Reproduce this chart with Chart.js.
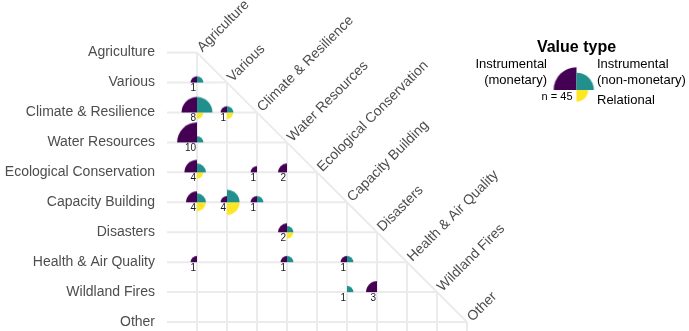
<!DOCTYPE html>
<html>
<head>
<meta charset="utf-8">
<script src="https://cdn.jsdelivr.net/npm/chart.js@4.4.1/dist/chart.umd.min.js"></script>
<style>
  html, body { margin: 0; padding: 0; background: #fff; }
  #wrap { width: 689px; height: 331px; }
</style>
</head>
<body>
<div id="wrap"><canvas id="chart" width="689" height="331"></canvas></div>
<script>
// Categories, used for both rows and columns
const categories = ['Agriculture', 'Various', 'Climate & Resilience', 'Water Resources',
  'Ecological Conservation', 'Capacity Building', 'Disasters', 'Health & Air Quality',
  'Wildland Fires', 'Other'];

// One entry per occupied cell of the lower triangle
const cellRow     = [1, 2, 2, 3, 4, 4, 4, 5, 5, 5, 6, 7, 7, 7, 8, 8];
const cellCol     = [0, 0, 1, 0, 0, 2, 3, 0, 1, 2, 3, 0, 3, 5, 5, 6];
const studies     = [1, 8, 1, 10, 4, 1, 2, 4, 4, 1, 2, 1, 1, 1, 1, 3];
const monetary    = [1, 6, 1, 10, 4, 1, 2, 3, 1, 1, 2, 1, 1, 1, 0, 3];
const nonMonetary = [1, 6, 1, 1, 2, 0, 0, 2, 4, 1, 1, 0, 1, 1, 1, 0];
const relational  = [0, 1, 1, 0, 1, 0, 0, 2, 4, 0, 1, 0, 0, 0, 0, 0];

const PURPLE = '#440154', TEAL = '#21908C', YELLOW = '#FDE725';
const GRID = '#ebebeb';
const FONT = '"Liberation Sans", Arial, sans-serif';

// quarter circle sprites, centred in their canvas
const cache = {};
function quarter(r, color, quad) {
  const key = r.toFixed(2) + color + quad;
  if (cache[key]) return cache[key];
  const R = Math.ceil(r) + 1;
  const c = document.createElement('canvas');
  c.width = 2 * R; c.height = 2 * R;
  const g = c.getContext('2d');
  const a = { tl: [Math.PI, 1.5 * Math.PI], tr: [1.5 * Math.PI, 2 * Math.PI], br: [0, 0.5 * Math.PI] }[quad];
  g.fillStyle = color;
  g.beginPath();
  g.moveTo(R, R);
  g.arc(R, R, r, a[0], a[1]);
  g.closePath();
  g.fill();
  cache[key] = c;
  return c;
}

const cellRadius = v => 6.3 * Math.sqrt(v);
const legendRadius = v => 3.7 * Math.sqrt(v);

function points(values) {
  return values.map((v, i) => ({ x: cellCol[i], y: cellRow[i], v })).filter(p => p.v > 0);
}

function quarterSet(label, values, color, quad) {
  return {
    label,
    data: points(values),
    pointStyle: ctx => quarter(cellRadius(ctx.raw.v), color, quad),
    pointRadius: ctx => cellRadius(ctx.raw.v),
    backgroundColor: color,
    borderWidth: 0
  };
}

const sum = a => a.reduce((s, v) => s + v, 0);

const triangle = {
  id: 'triangle',
  beforeDatasetsDraw(chart) {
    const { ctx, chartArea, scales: { x, y } } = chart;
    ctx.save();
    ctx.strokeStyle = GRID;
    ctx.lineWidth = 2;
    categories.forEach((c, i) => {
      const px = x.getPixelForValue(i), py = y.getPixelForValue(i);
      ctx.beginPath(); ctx.moveTo(chartArea.left, py); ctx.lineTo(px, py); ctx.stroke();
      ctx.beginPath(); ctx.moveTo(px, py); ctx.lineTo(px, chartArea.bottom); ctx.stroke();
    });
    const last = categories.length - 1;
    ctx.beginPath();
    ctx.moveTo(x.getPixelForValue(0), y.getPixelForValue(0));
    ctx.lineTo(x.getPixelForValue(last), y.getPixelForValue(last));
    ctx.stroke();
    ctx.restore();
  },
  afterDatasetsDraw(chart) {
    const { ctx, scales: { x, y } } = chart;
    ctx.save();
    // study counts
    ctx.fillStyle = '#1a1a1a';
    ctx.font = '10px ' + FONT;
    ctx.textAlign = 'right';
    ctx.textBaseline = 'middle';
    studies.forEach((n, i) => {
      ctx.fillText(n, x.getPixelForValue(cellCol[i]) - 1, y.getPixelForValue(cellRow[i]) + 6);
    });
    // column labels along the diagonal
    ctx.fillStyle = '#4d4d4d';
    ctx.font = '14px ' + FONT;
    ctx.textAlign = 'left';
    ctx.textBaseline = 'middle';
    categories.forEach((c, i) => {
      ctx.save();
      ctx.translate(x.getPixelForValue(i), y.getPixelForValue(i));
      ctx.rotate(-Math.PI / 4);
      ctx.fillText(c, 4, 0);
      ctx.restore();
    });
    // legend
    const cx = 576.5, cy = 90;
    const rm = legendRadius(sum(monetary)), rn = legendRadius(sum(nonMonetary)), rr = legendRadius(sum(relational));
    [[rm, PURPLE, 'tl'], [rn, TEAL, 'tr'], [rr, YELLOW, 'br']].forEach(([r, col, q]) => {
      const img = quarter(r, col, q);
      ctx.drawImage(img, cx - img.width / 2, cy - img.height / 2);
    });
    ctx.fillStyle = '#000';
    ctx.font = 'bold 16px ' + FONT;
    ctx.textAlign = 'center';
    ctx.textBaseline = 'middle';
    ctx.fillText('Value type', cx, 48);
    ctx.font = '13px ' + FONT;
    ctx.textAlign = 'right';
    ctx.fillText('Instrumental', 547, 64);
    ctx.fillText('(monetary)', 547, 80);
    ctx.textAlign = 'left';
    ctx.fillText('Instrumental', 597, 64);
    ctx.fillText('(non-monetary)', 597, 80);
    ctx.fillText('Relational', 597, 100);
    ctx.font = '11px ' + FONT;
    ctx.textAlign = 'right';
    ctx.fillText('n = ' + sum(studies), cx - 4, 97);
    ctx.restore();
  }
};

new Chart(document.getElementById('chart'), {
  type: 'scatter',
  data: {
    datasets: [
      quarterSet('Instrumental (monetary)', monetary, PURPLE, 'tl'),
      quarterSet('Instrumental (non-monetary)', nonMonetary, TEAL, 'tr'),
      quarterSet('Relational', relational, YELLOW, 'br')
    ]
  },
  options: {
    responsive: false,
    animation: false,
    devicePixelRatio: 1,
    layout: { autoPadding: false, padding: { top: 7.7, right: 213, bottom: 0, left: 0 } },
    scales: {
      x: { type: 'linear', min: -1, max: 9.3, display: false },
      y: {
        type: 'linear', reverse: true, min: -1.5, max: 9.3,
        afterFit: scale => {
          scale.width = 167;
          scale.paddingTop = 0;
          scale.paddingBottom = 0;
        },
        afterBuildTicks: scale => { scale.ticks = categories.map((c, i) => ({ value: i })); },
        grid: { display: false, drawTicks: false },
        border: { display: false },
        ticks: {
          autoSkip: false,
          padding: 12,
          color: '#4d4d4d',
          font: { size: 14, family: FONT },
          callback: v => categories[v]
        }
      }
    },
    plugins: {
      legend: { display: false },
      tooltip: { enabled: false }
    }
  },
  plugins: [triangle]
});
</script>
</body>
</html>
